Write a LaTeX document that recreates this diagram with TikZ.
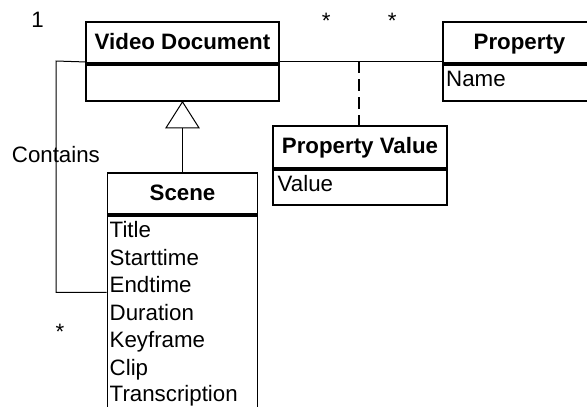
\documentclass[tikz,border=0pt]{standalone}
\usepackage{fontspec}
\setmainfont{Liberation Sans}
\begin{document}
\begin{tikzpicture}[x=1pt,y=-1pt,
  every node/.style={font=\fontsize{22.3}{26}\selectfont},
  classbox/.style={draw,line width=1.9pt,inner sep=0pt},
  classtitle/.style={classbox,font=\fontsize{22.3}{26}\selectfont\bfseries,
    text height=16pt,text depth=3pt},
  attr/.style={anchor=base west,inner sep=0pt},
  mult/.style={anchor=base,inner sep=0pt},
  link/.style={line width=1pt},
  dashlink/.style={line width=1.8pt,dash pattern=on 12pt off 6pt}]
\useasboundingbox (0,0) rectangle (587,407);

% Video Document
\node[classtitle,minimum width=193pt,minimum height=41pt] (vdh) at (182.5,42.5) {Video Document};
\node[classbox,minimum width=193pt,minimum height=36pt,anchor=north] (vdb) at (vdh.south) {};

% Property
\node[classtitle,minimum width=153pt,minimum height=41pt] (proph) at (519.5,42.5) {Property};
\node[classbox,minimum width=153pt,minimum height=36pt,anchor=north] (propb) at (proph.south) {};
\node[attr] (pname) at (446,86.7) {Name};

% Property Value
\node[classtitle,minimum width=173.4pt,minimum height=42pt] (pvh) at (360,147) {Property Value};
\node[classbox,minimum width=173.4pt,minimum height=35pt,anchor=north] (pvb) at (pvh.south) {};
\node[attr] (pvval) at (277.5,191.7) {Value};

% Scene
\node[classtitle,minimum width=150pt,minimum height=41pt] (sch) at (182.5,193.8) {Scene};
\node[classbox,minimum width=150pt,minimum height=200pt,anchor=north] (scb) at (sch.south) {};
\node[attr] (s1) at (109.5,237.7) {Title};
\node[attr] (s2) at (109.5,265) {Starttime};
\node[attr] (s3) at (109.5,292.3) {Endtime};
\node[attr] (s4) at (109.5,320) {Duration};
\node[attr] (s5) at (109.5,347.7) {Keyframe};
\node[attr] (s6) at (109.5,375) {Clip};
\node[attr] (s7) at (109.5,401.7) {Transcription};

% Generalisation: Scene -> Video Document
\coordinate (tribase) at ([yshift=-26pt]vdb.south);
\draw[link] (tribase) -- (sch.north);
\draw[link,fill=white] (vdb.south) -- ++(-16.5,26) -- ++(33,0) -- cycle;

% Association Video Document -- Property, with association class
\draw[link] ([yshift=2pt]vdh.south east) -- ([yshift=2pt]proph.south west);
\coordinate (pvjoin) at (359,61);
\draw[dashlink] (pvjoin) -- (pvjoin |- pvh.north);

% "Contains" association between Video Document and Scene
\coordinate (ctop) at (56,61);
\coordinate (cbot) at (56,292.3);
\draw[link] ([yshift=2pt]vdh.south west) -- (ctop) -- (cbot) -- (scb.west |- cbot);

% Multiplicities and role label
\node[mult] (m1) at (37.5,27.3) {1};
\node[mult] (m2) at (326.2,28.3) {*};
\node[mult] (m3) at (392.3,28.3) {*};
\node[mult] (m4) at (60,339.5) {*};
\node[attr] (contains) at (11.7,162.7) {Contains};
\end{tikzpicture}
\end{document}
